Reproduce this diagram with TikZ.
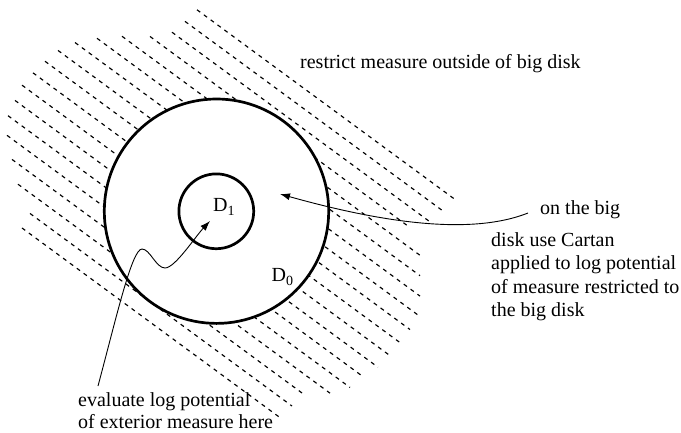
\documentclass[tikz,border=0pt]{standalone}
\usepackage{fontspec}
\setmainfont{Liberation Serif}
\usetikzlibrary{arrows.meta}
\begin{document}
\begin{tikzpicture}[x=1pt,y=-1pt,
  hatch/.style={line width=1.15pt, dash pattern=on 4pt off 4.5pt},
  disk/.style={circle, draw, line width=2.7pt, fill=white, inner sep=0pt, outer sep=0pt},
  lbl/.style={anchor=base west, inner sep=0pt, font=\fontsize{20}{23.4}\selectfont},
  pointer/.style={line width=0.9pt, -{Latex[length=10pt,width=7pt]}}]
\useasboundingbox (0,0) rectangle (681,432);
% hatching outside the big disk
\foreach \i/\xs/\xe in {0/197/455, 1/185/443, 2/172/430, 3/150/408, 4/122/420, 5/97/420,
  6/75/420, 7/58/418, 8/45/410, 9/33/402, 10/22/391, 11/15/378, 12/8/364, 13/7/350,
  14/12/330, 15/18/305, 16/30/292, 17/22/280} {
  \draw[hatch] (\xs, {0.735*\xs - 135 + 20.4*\i}) -- (\xe, {0.735*\xe - 135 + 20.4*\i});
}
% disks
\node[disk, minimum size=224.4pt] (D0) at (216.5,211.2) {};
\node[disk, minimum size=74.8pt] (D1) at (216.3,211.3) {};
% labels
\node[lbl] (l1) at (213,211.7) {D\raisebox{-4pt}{\fontsize{14}{14}\selectfont 1}};
\node[lbl] (l0) at (271.5,281.7) {D\raisebox{-4pt}{\fontsize{14}{14}\selectfont 0}};
\node[lbl] (top) at (300,68) {restrict measure outside of big disk};
\node[lbl] (onbig) at (540,214) {on the big};
% multi-line nodes: base anchor is the baseline of the last line
\node[lbl, align=left] (cartan) at (491,316.7) {disk use Cartan\\applied to log potential\\of measure restricted to\\the big disk};
\node[lbl, align=left, font=\fontsize{20}{22.6}\selectfont] (eval) at (78,428.6) {evaluate log potential\\of exterior measure here};
% pointers
\coordinate (rs) at (528,213);
\coordinate (rt) at (280,194);
\coordinate (ls) at (98,386);
\coordinate (lt) at (210,221);
\draw[pointer] (rs) .. controls (470,236) and (380,222) .. (rt);
\draw[pointer] (ls) .. controls (117,315) and (132,249) .. (142,249)
  .. controls (150,249) and (156,268) .. (165,268)
  .. controls (175,268) and (195,237) .. (lt);
\end{tikzpicture}
\end{document}
